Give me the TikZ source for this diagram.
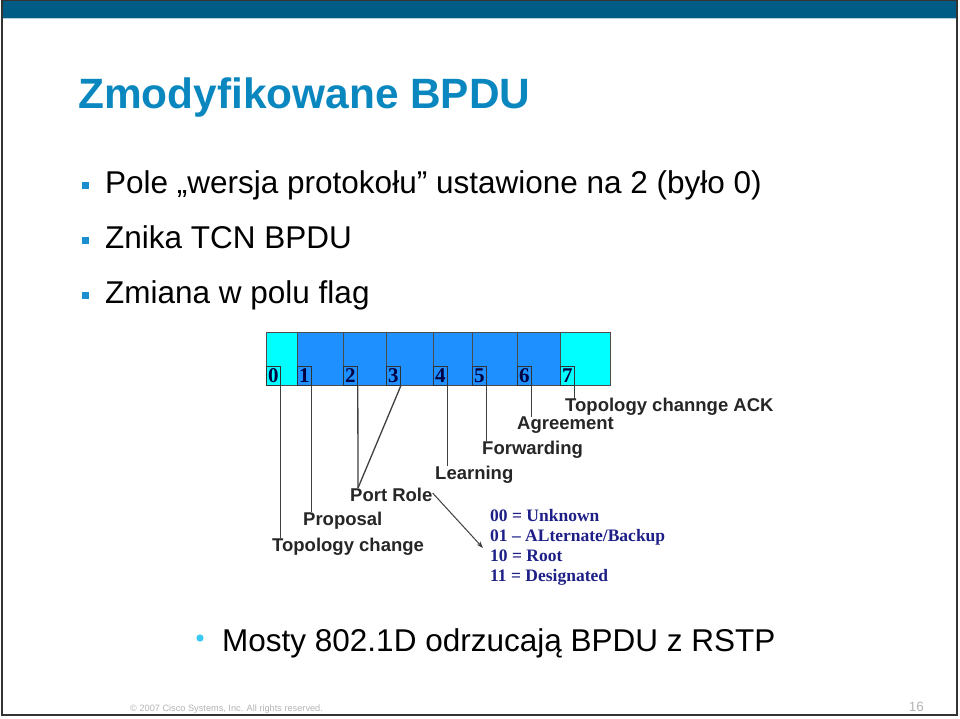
\documentclass[tikz,border=0pt]{standalone}
\usepackage{fontspec}
\setmainfont{Liberation Sans}
\newfontfamily\lserif{Liberation Serif}
\usetikzlibrary{arrows.meta}
\definecolor{barblue}{HTML}{005B85}
\definecolor{titleblue}{HTML}{0A87BF}
\definecolor{bulletblue}{HTML}{1B8ECF}
\definecolor{dotblue}{HTML}{38C8F2}
\definecolor{bitcyan}{HTML}{00FFFF}
\definecolor{bitblue}{HTML}{1E90FF}
\definecolor{legendblue}{HTML}{1E2088}
\definecolor{footgray}{HTML}{B4B4B4}
\tikzset{
  bullettext/.style={anchor=base west, inner sep=0pt, font=\fontsize{31.5}{36}\selectfont},
  flagcell/.style={draw=black!70, line width=0.8pt, inner sep=0pt, minimum height=53pt, anchor=north west},
  numbox/.style={draw=black!80, line width=0.8pt, inner sep=0pt, minimum width=14pt, minimum height=19pt, anchor=south west, font=\lserif\bfseries\fontsize{21}{21}\selectfont, text=black!75!blue},
  flaglabel/.style={anchor=north west, inner sep=0pt, font=\bfseries\fontsize{18.5}{20}\selectfont, text=black!85},
  leader/.style={draw=black!75, line width=1.3pt},
  legend/.style={anchor=base west, inner sep=0pt, font=\lserif\bfseries\fontsize{17.5}{18}\selectfont, text=legendblue}
}
\begin{document}
\begin{tikzpicture}[x=1pt,y=-1pt]
\useasboundingbox (0,0) rectangle (960,718);
\fill[white] (0,0) rectangle (960,718);
% slide frame and top bar
\fill[barblue] (2,0) rectangle (957,18);
\draw[black!80, line width=1pt] (2,0.5) -- (957,0.5);
\draw[white!70!barblue, line width=1pt] (2,18.5) -- (957,18.5);
\draw[black!80, line width=1.4pt] (2,0) -- (2,715) -- (957,715) -- (957,0);
% title
\node[anchor=base west, inner sep=0pt, text=titleblue, font=\bfseries\fontsize{42.4}{48}\selectfont] (title) at (78,108) {Zmodyfikowane BPDU};
% bullets
\foreach \yy in {193, 248, 303}{
  \fill[bulletblue] (82,\yy-11) rectangle (89,\yy-4);
}
\node[bullettext] (t1) at (105,193) {Pole „wersja protokołu” ustawione na 2 (było 0)};
\node[bullettext] (t2) at (105,248) {Znika TCN BPDU};
\node[bullettext] (t3) at (105,303) {Zmiana w polu flag};
% flag byte
\node[flagcell, fill=bitcyan, minimum width=31pt] (c0) at (266,332) {};
\node[flagcell, fill=bitblue, minimum width=46pt] (c1) at (297,332) {};
\node[flagcell, fill=bitblue, minimum width=43pt] (c2) at (343,332) {};
\node[flagcell, fill=bitblue, minimum width=47pt] (c3) at (386,332) {};
\node[flagcell, fill=bitblue, minimum width=39pt] (c4) at (433,332) {};
\node[flagcell, fill=bitblue, minimum width=45pt] (c5) at (472,332) {};
\node[flagcell, fill=bitblue, minimum width=43pt] (c6) at (517,332) {};
\node[flagcell, fill=bitcyan, minimum width=50pt] (c7) at (560,332) {};
\foreach \i in {0,...,7}{
  \node[numbox] (n\i) at (c\i.south west) {\i};
}
% labels
\node[flaglabel] (l7) at (565,398) {Topology channge ACK};
\node[flaglabel] (l6) at (517,417) {Agreement};
\node[flaglabel] (l5) at (482,441) {Forwarding};
\node[flaglabel] (l4) at (435,466) {Learning};
\node[flaglabel] (l3) at (350,488) {Port Role};
\node[flaglabel] (l1) at (303,512) {Proposal};
\node[flaglabel] (l0) at (272,538) {Topology change};
% leader lines
\draw[leader] (n0.south east) -- (n0.south east |- l0.north);
\draw[leader] (n1.south east) -- (n1.south east |- l1.north);
\draw[leader] (n2.south east) -- ([xshift=8pt]l3.north west);
\draw[leader] (n3.south east) -- ([xshift=8pt]l3.north west);
\draw[leader] (n4.south east) -- (n4.south east |- l4.north);
\draw[leader] (n5.south east) -- (n5.south east |- l5.north);
\draw[leader] (n6.south east) -- (n6.south east |- l6.north);
\draw[leader] (n7.south east) -- ([yshift=-2pt]n7.south east |- l7.north);
% legend
\node[legend] (g0) at (490,521) {00 = Unknown};
\node[legend] (g1) at (490,541) {01 – ALternate/Backup};
\node[legend] (g2) at (490,561) {10 = Root};
\node[legend] (g3) at (490,581) {11 = Designated};
\coordinate (arrend) at (483,548);
\draw[black!75, line width=1pt, -{Stealth[length=7pt,width=5pt]}] ([yshift=2pt]l3.east) -- (arrend);
% bottom bullet
\fill[dotblue] (200,638) circle (3.6);
\node[bullettext] (t4) at (222,651) {Mosty 802.1D odrzucają BPDU z RSTP};
% footer
\node[anchor=base west, inner sep=0pt, text=footgray, font=\fontsize{9.2}{10}\selectfont] (copy) at (130,711) {© 2007 Cisco Systems, Inc. All rights reserved.};
\node[anchor=base east, inner sep=0pt, text=footgray, font=\fontsize{13.5}{14}\selectfont] (pg) at (924,711) {16};
\end{tikzpicture}
\end{document}
